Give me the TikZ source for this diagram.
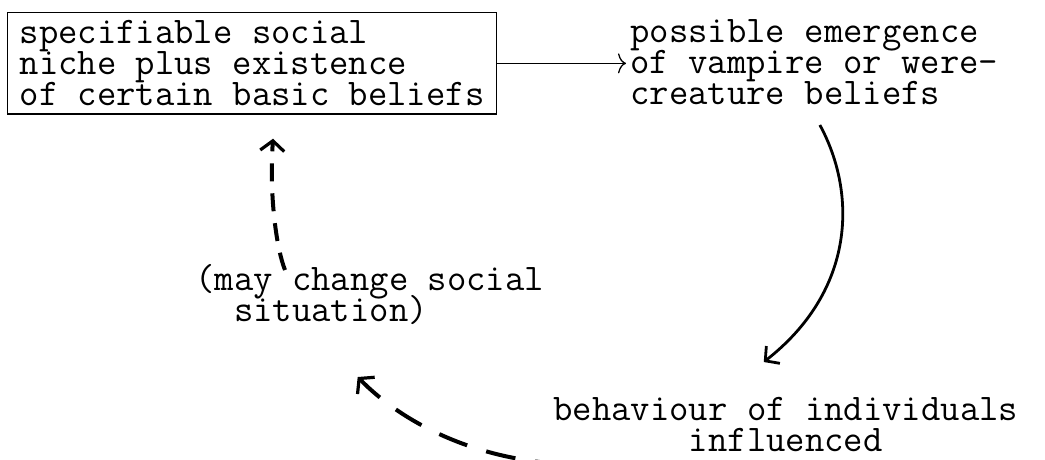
\documentclass[tikz,border=0pt]{standalone}
\usepackage{fontspec}
\usetikzlibrary{arrows.meta}
\newcommand{\typewriter}{\fontsize{18.8}{15.5}\selectfont\ttfamily\lineskiplimit=-20pt\relax}
\begin{document}
\begin{tikzpicture}[x=0.5pt,y=0.5pt,
  txt/.style={font=\typewriter, inner sep=0pt, anchor=north west},
  dsh/.style={line width=2pt, -{Straight Barb[length=5pt,width=12pt,line width=1.6pt]}}]
\useasboundingbox (0,0) rectangle (1045,-460);
% the four statements
\node[txt, align=left, draw, line width=0.65pt, inner xsep=6pt, inner ysep=4pt] (niche) at (7,-12) {specifiable social\\niche plus existence\\of certain basic beliefs};
\node[txt, align=left] (emerg) at (630,-19) {possible emergence\\of vampire or were-\\creature beliefs};
\node[txt, align=center] (behav) at (553,-397) {behaviour of individuals\\influenced};
\node[txt, align=left] (may) at (195,-264) {(may change social\\~~situation)};
% solid arrows
\draw[line width=0.65pt, shorten >=2pt, -{To[length=4pt,width=10pt]}] (niche.east) -- (niche.east -| emerg.west);
\draw[line width=1.4pt, -{Straight Barb[length=5pt,width=11pt]}] ([xshift=2.75pt,yshift=-10pt]emerg.south) .. controls +(37,-68) and +(92,72) .. ([xshift=-11pt,yshift=17.5pt]behav.north);
% dashed feedback
\draw[dsh, dash pattern=on 15pt off 10pt] ([xshift=6pt,yshift=-6pt]behav.south west) .. controls +(-95,5) and +(42,-43) .. ([xshift=-6pt,yshift=-26pt]may.south);
\draw[dsh, dash pattern=on 9pt off 6pt] ([xshift=45pt,yshift=-3pt]may.north west) .. controls +(-8,20) and +(-4,-60) .. ([xshift=10.5pt,yshift=-12pt]niche.south);
\end{tikzpicture}
\end{document}
